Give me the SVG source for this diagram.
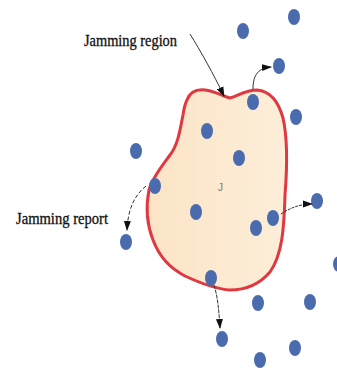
<svg xmlns="http://www.w3.org/2000/svg" width="337" height="372" viewBox="0 0 337 372">
<defs>
<style>
.dot{fill:#4a6cae}
.lbl{font-family:"Liberation Serif",serif;font-size:16px;fill:#111;stroke:#111;stroke-width:0.3}
.conn{fill:none;stroke:#333;stroke-width:1}
</style>
<marker id="ah" markerWidth="10" markerHeight="8" refX="9" refY="4" orient="auto" markerUnits="userSpaceOnUse">
<path d="M0,0.5 L10,4 L0,7.5 z" fill="#111"/>
</marker>
<linearGradient id="fillg" x1="0" y1="0" x2="1" y2="0">
<stop offset="0" stop-color="#fbe4c6"/>
<stop offset="1" stop-color="#fdeed9"/>
</linearGradient>
</defs>
<rect width="337" height="372" fill="#fff"/>
<g id="region">
<path d="M187,100 C190,92 196,89 205,90 C215,91 222,96 230,98 C238,96 245,90 257,90 C270,91 278,100 283,118 C288,140 287,170 285,195 C284,230 282,255 270,272 C258,286 245,290 230,290 C215,289 200,283 185,276 C170,268 160,258 153,240 C146,222 146,205 149,190 C152,178 162,166 170,155 C178,145 180,130 183,115 C184,108 185,104 187,100 Z" fill="url(#fillg)" stroke="#e03840" stroke-width="3"/>
<text x="218" y="191" font-family="Liberation Sans,sans-serif" font-size="10" fill="#777">J</text>
</g>
<g id="nodes">
<ellipse id="n1" class="dot" cx="243" cy="31" rx="6" ry="8"/>
<ellipse id="n2" class="dot" cx="294" cy="17" rx="6" ry="8"/>
<ellipse id="n3" class="dot" cx="279" cy="66" rx="6" ry="8"/>
<ellipse id="n4" class="dot" cx="253" cy="102" rx="6" ry="8"/>
<ellipse id="n5" class="dot" cx="296" cy="117" rx="6" ry="8"/>
<ellipse id="n6" class="dot" cx="207" cy="131" rx="6" ry="8"/>
<ellipse id="n7" class="dot" cx="136" cy="151" rx="6" ry="8"/>
<ellipse id="n8" class="dot" cx="239" cy="158" rx="6" ry="8"/>
<ellipse id="n9" class="dot" cx="155" cy="186" rx="6" ry="8"/>
<ellipse id="n10" class="dot" cx="196" cy="212" rx="6" ry="8"/>
<ellipse id="n11" class="dot" cx="256" cy="228" rx="6" ry="8"/>
<ellipse id="n12" class="dot" cx="273" cy="218" rx="6" ry="8"/>
<ellipse id="n13" class="dot" cx="317" cy="201" rx="6" ry="8"/>
<ellipse id="n14" class="dot" cx="126" cy="242" rx="6" ry="8"/>
<ellipse id="n15" class="dot" cx="211" cy="278" rx="6" ry="8"/>
<ellipse id="n16" class="dot" cx="339" cy="264" rx="6" ry="8"/>
<ellipse id="n17" class="dot" cx="258" cy="303" rx="6" ry="8"/>
<ellipse id="n18" class="dot" cx="310" cy="302" rx="6" ry="8"/>
<ellipse id="n19" class="dot" cx="222" cy="339" rx="6" ry="8"/>
<ellipse id="n20" class="dot" cx="295" cy="348" rx="6" ry="8"/>
<ellipse id="n21" class="dot" cx="260" cy="360" rx="6" ry="8"/>
</g>
<g id="connectors">
<path class="conn" d="M190,34 C200,50 214,75 224,96" marker-end="url(#ah)"/>
<path class="conn" d="M253,89 C253,78 256,68 271,67" marker-end="url(#ah)"/>
<path class="conn" d="M146,186 C135,195 128,208 127,230" stroke-dasharray="4,2" marker-end="url(#ah)"/>
<path class="conn" d="M281,214 C290,208 300,204 312,204" stroke-dasharray="3,1" marker-end="url(#ah)"/>
<path class="conn" d="M214,285 C218,298 219,312 220,328" stroke-dasharray="4,1" marker-end="url(#ah)"/>
</g>
<g id="labels">
<text class="lbl" x="84" y="46" textLength="93" lengthAdjust="spacingAndGlyphs">Jamming region</text>
<text class="lbl" x="16" y="224" textLength="92" lengthAdjust="spacingAndGlyphs">Jamming report</text>
</g>
</svg>
